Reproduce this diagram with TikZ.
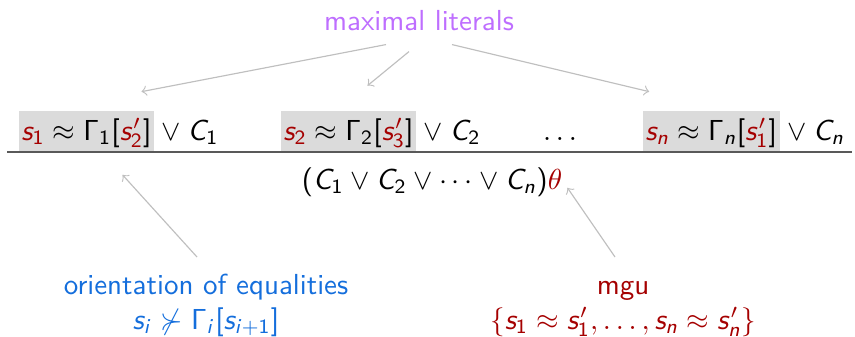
\documentclass[tikz,border=0pt]{standalone}
\usepackage{amsmath,amssymb}
\renewcommand{\familydefault}{\sfdefault}
\DeclareSymbolFont{operators}{OT1}{cmss}{m}{n}
\SetSymbolFont{operators}{bold}{OT1}{cmss}{bx}{n}
\DeclareSymbolFont{sfletters}{OT1}{cmss}{m}{sl}
\makeatletter
\def\sfletter#1{\DeclareMathSymbol{#1}{\mathalpha}{sfletters}{`#1}}
\@tfor\x:=abcdefghijklmnopqrstuvwxyzABCDEFGHIJKLMNOPQRSTUVWXYZ\do{\expandafter\sfletter\x}
\makeatother
\definecolor{litviolet}{RGB}{190,110,255}
\definecolor{orientblue}{RGB}{20,110,220}
\definecolor{mgured}{RGB}{165,0,0}
\newcommand{\rs}[1]{\textcolor{mgured}{#1}}

\begin{document}
\begin{tikzpicture}[x=0.345pt, y=-0.345pt,
	litbox/.style={fill=black!14, inner xsep=1pt, inner ysep=1.2pt, text height=8.9pt, text depth=2.5pt},
	hint/.style={->, black!25},
	rule/.style={black!65, line width=0.7pt}]
	\useasboundingbox (0,0) rectangle (855,336);
	\node[anchor=base, text=litviolet] (lit) at (419,30) {maximal literals};
	\node[litbox, anchor=base west] (b1) at (18,140.5) {$\rs{s_1} \approx \Gamma_1[\rs{s_2'}]$};
	\node[anchor=base west, inner sep=0] (c1) at (b1.base east) {${}\vee C_1$};
	\node[litbox, anchor=base west] (b2) at (280,140.5) {$\rs{s_2} \approx \Gamma_2[\rs{s_3'}]$};
	\node[anchor=base west, inner sep=0] (c2) at (b2.base east) {${}\vee C_2$};
	\node[anchor=base] (dots) at (560,140.5) {$\ldots$};
	\node[litbox, anchor=base west] (bn) at (642,140.5) {$\rs{s_n} \approx \Gamma_n[\rs{s_1'}]$};
	\node[anchor=base west, inner sep=0] (cn) at (bn.base east) {${}\vee C_n$};
	\draw[rule] (7,152) -- (852,152);
	\node[anchor=base] (concl) at (432,189) {$(C_1 \vee C_2 \vee \cdots \vee C_n)\rs{\theta}$};
	\node[anchor=north, align=center, text=orientblue] (orient) at (206,264)
		{orientation of equalities\\ $s_i \not\succ \Gamma_i[s_{i+1}]$};
	\node[anchor=north, align=center, text=mgured] (mgu) at (623,271)
		{mgu\\ $\{s_1 \approx s_1', \ldots, s_n \approx s_n'\}$};
	\draw[hint] ([shift={(-33,4)}]lit.south) -- ([shift={(55,-19)}]b1.north);
	\draw[hint] ([shift={(-10,11)}]lit.south) -- ([shift={(19,-25)}]b2.north);
	\draw[hint] ([shift={(33,4)}]lit.south) -- ([shift={(-62,-19)}]bn.north);
	\draw[hint] ([shift={(-9,-7)}]orient.north) -- ([shift={(36,23)}]b1.south);
	\draw[hint] ([shift={(-8,-14)}]mgu.north) -- ([shift={(-5,6)}]concl.east);
\end{tikzpicture}
\end{document}
